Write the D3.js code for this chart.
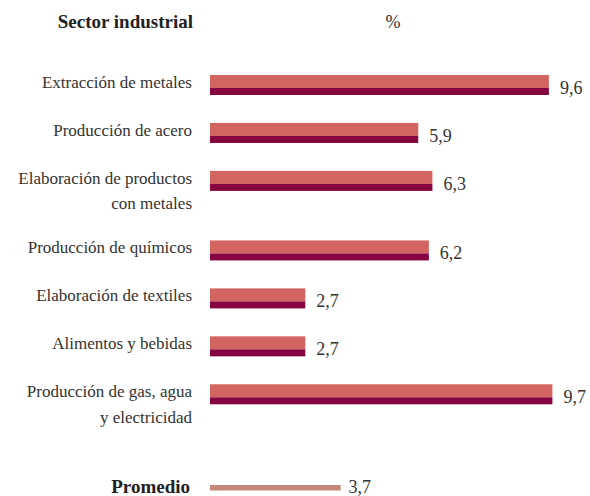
<!DOCTYPE html>
<html>
<head>
<meta charset="utf-8">
<script src="https://cdn.jsdelivr.net/npm/d3@7"></script>
<style>
  body { margin: 0; background: #fff; }
</style>
</head>
<body>
<div id="chart"></div>
<script>
// Sectors (label lines) and their values in %
const sectorLabels = [
  ['Extracción de metales'],
  ['Producción de acero'],
  ['Elaboración de productos', 'con metales'],
  ['Producción de químicos'],
  ['Elaboración de textiles'],
  ['Alimentos y bebidas'],
  ['Producción de gas, agua', 'y electricidad']
];
const sectorValues = [9.6, 5.9, 6.3, 6.2, 2.7, 2.7, 9.7];

const averageLabel = 'Promedio';
const averageValue = 3.7;

const headerLeft = 'Sector industrial';
const headerRight = '%';

const width = 590, height = 496;
const barLeft = 210;
const fontFamily = "'Liberation Serif', 'DejaVu Serif', serif";

const svg = d3.select('#chart').append('svg')
  .attr('width', width)
  .attr('height', height)
  .style('font-family', fontFamily);

// spanish decimal comma
const fmt = d3.formatLocale({ decimal: ',', thousands: '.', grouping: [3], currency: ['', ''] }).format('.1f');

// slot positions: two-line rows take a bit more room, average row is set apart
const slots = [];
let s = 0;
sectorLabels.forEach((lines, i) => {
  slots.push(s);
  s += 1 + (lines.length - 1) * 0.45;
});
const avgSlot = s + 0.65;

const yScale = d3.scaleLinear()
  .domain([0, avgSlot])
  .range([75, 485]);

const xScale = d3.scaleLinear()
  .domain([0, 10])
  .range([barLeft, barLeft + 353]);

const rows = sectorValues.map((v, i) => ({ value: v, lines: sectorLabels[i], slot: slots[i] }));

// header
svg.append('text')
  .attr('x', 193).attr('y', 28)
  .attr('text-anchor', 'end')
  .attr('font-family', fontFamily)
  .attr('font-size', 19).attr('font-weight', 'bold')
  .attr('fill', '#222')
  .text(headerLeft);

svg.append('text')
  .attr('x', 393).attr('y', 28)
  .attr('text-anchor', 'middle')
  .attr('font-family', fontFamily)
  .attr('font-size', 18)
  .attr('fill', '#333')
  .text(headerRight);

const row = svg.selectAll('.row')
  .data(rows)
  .enter().append('g')
  .attr('class', 'row')
  .attr('transform', d => `translate(0,${yScale(d.slot)})`);

// light top part
row.append('rect')
  .attr('x', xScale(0))
  .attr('y', 0)
  .attr('width', d => xScale(d.value) - xScale(0))
  .attr('height', 13)
  .attr('fill', '#D4645F');

// dark lower strip
row.append('rect')
  .attr('x', xScale(0))
  .attr('y', 13)
  .attr('width', d => xScale(d.value) - xScale(0))
  .attr('height', 7)
  .attr('fill', '#86043F');

row.append('text')
  .attr('x', d => xScale(d.value) + 11)
  .attr('y', 19)
  .attr('font-family', fontFamily)
  .attr('font-size', 18)
  .attr('fill', '#333')
  .text(d => fmt(d.value));

row.each(function(d) {
  const t = d3.select(this).append('text')
    .attr('text-anchor', 'end')
    .attr('font-family', fontFamily)
    .attr('font-size', 17)
    .attr('fill', '#333');
  d.lines.forEach((line, j) => {
    t.append('tspan')
      .attr('x', 192)
      .attr('y', 13 + j * 25.5)
      .text(line);
  });
});

// average row
const avg = svg.append('g')
  .attr('transform', `translate(0,${yScale(avgSlot)})`);

avg.append('rect')
  .attr('x', xScale(0))
  .attr('y', 0)
  .attr('width', xScale(averageValue) - xScale(0))
  .attr('height', 5.5)
  .attr('fill', '#C5897B');

avg.append('text')
  .attr('x', 190).attr('y', 8)
  .attr('text-anchor', 'end')
  .attr('font-family', fontFamily)
  .attr('font-size', 19).attr('font-weight', 'bold')
  .attr('fill', '#222')
  .text(averageLabel);

avg.append('text')
  .attr('x', xScale(averageValue) + 8)
  .attr('y', 8)
  .attr('font-family', fontFamily)
  .attr('font-size', 18)
  .attr('fill', '#333')
  .text(fmt(averageValue));
</script>
</body>
</html>
